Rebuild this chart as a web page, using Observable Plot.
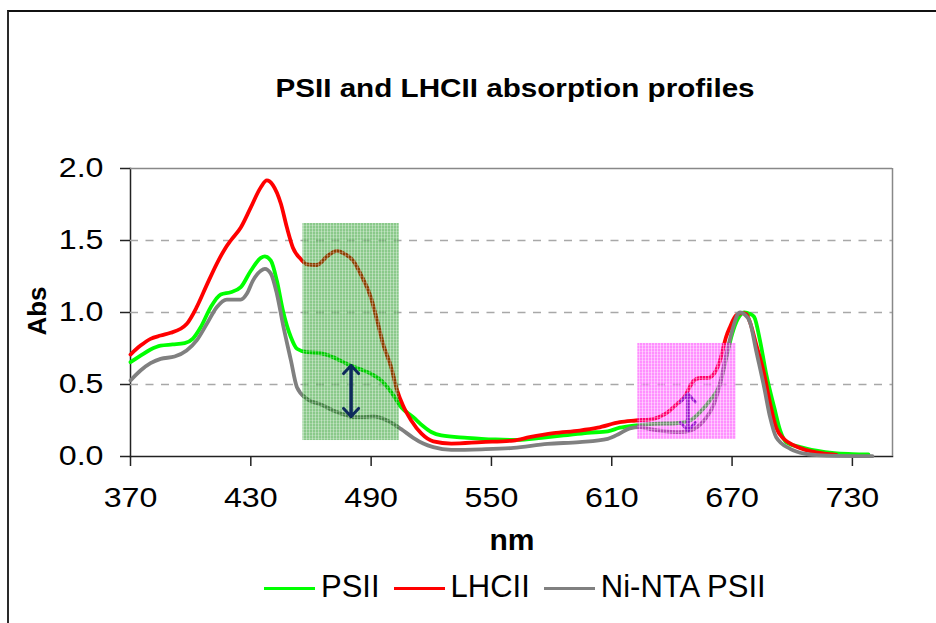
<!DOCTYPE html>
<html>
<head>
<meta charset="utf-8">
<script src="https://cdn.jsdelivr.net/npm/d3@7"></script>
<script src="https://cdn.jsdelivr.net/npm/@observablehq/plot@0.6"></script>
<style>
  html, body { margin: 0; padding: 0; background: #fff; }
  #wrap { position: relative; width: 936px; height: 623px; overflow: hidden;
          font-family: "Liberation Sans", Arial, Helvetica, sans-serif; color: #000; }
  #frame { position: absolute; left: 7px; top: 10px; width: 1000px; height: 700px;
           border-left: 2px solid #2a2a2a; border-top: 2px solid #111; box-sizing: border-box; }
  #chart { position: absolute; left: 0; top: 0; }
  #chart svg text { font-family: "Liberation Sans", Arial, Helvetica, sans-serif; font-size: 28px; fill: #000; }
  #title { position: absolute; left: 215px; width: 600px; top: 75px; text-align: center;
           font-weight: bold; font-size: 26px; line-height: 26px; transform: scaleX(1.14); white-space: nowrap; }
  #xlabel { position: absolute; left: 412px; width: 200px; top: 525px; text-align: center;
            font-weight: bold; font-size: 30px; line-height: 30px; }
  #ylabel { position: absolute; left: 37px; top: 311px; font-weight: bold; font-size: 26px; line-height: 26px;
            transform: translate(-50%, -50%) rotate(-90deg); white-space: nowrap; }
  #legend { position: absolute; left: 264px; top: 571px; display: flex; align-items: center;
            font-size: 31px; line-height: 31px; white-space: nowrap; }
  #legend .item { display: flex; align-items: center; margin-right: 14px; }
  #legend .swatch { width: 51px; height: 0; border-top: 3.5px solid; margin-right: 6px; position: relative; top: 2px; }
</style>
</head>
<body>
<div id="wrap">
  <div id="frame"></div>
  <div id="chart"></div>
  <div id="title">PSII and LHCII absorption profiles</div>
  <div id="xlabel">nm</div>
  <div id="ylabel">Abs</div>
  <div id="legend"></div>
</div>
<script>
// Absorption spectra (wavelength in nm, absorbance)
const psiiNm  = [370,375,380,385,391,397,401,405,410,415,420,425,430,435,437,440,443,446,450,453,458,465,471,478,484,490,495,500,505,511,516,520,525,538,545,552,563,575,586,598,608,614,621,631,642,649,654,659,664,667,670,673,676,679,681,684,687,691,694,697,704,712,721,730,738];
const psiiAbs = [0.655,0.70,0.743,0.77,0.778,0.787,0.817,0.898,1.037,1.125,1.141,1.176,1.29,1.38,1.39,1.36,1.22,1.014,0.828,0.748,0.724,0.717,0.69,0.643,0.609,0.574,0.528,0.447,0.342,0.273,0.21,0.17,0.146,0.13,0.123,0.118,0.115,0.13,0.146,0.165,0.175,0.2,0.215,0.227,0.231,0.25,0.308,0.39,0.505,0.68,0.85,0.96,1.0,0.99,0.97,0.8,0.574,0.342,0.18,0.1,0.065,0.04,0.023,0.017,0.014];

const lhciiNm  = [370,375,380,385,390,395,398,403,408,413,417,420,425,430,435,438,441,445,448,451,455,458,463,468,473,477,481,485,490,493,496,500,503,506,510,515,521,530,545,561,569,581,594,603,614,622,631,636,639,643,646,651,654,658,662,664,667,669,672,675,677,679,682,686,689,692,696,701,709,716,722];
const lhciiAbs = [0.708,0.77,0.817,0.84,0.859,0.887,0.92,1.037,1.19,1.338,1.44,1.50,1.59,1.73,1.87,1.917,1.885,1.755,1.59,1.45,1.37,1.335,1.33,1.39,1.428,1.405,1.36,1.26,1.10,0.944,0.78,0.62,0.458,0.35,0.25,0.16,0.105,0.09,0.1,0.111,0.134,0.162,0.18,0.2,0.238,0.25,0.262,0.29,0.32,0.37,0.41,0.528,0.545,0.546,0.597,0.667,0.83,0.9,0.98,0.995,0.99,0.93,0.78,0.574,0.366,0.2,0.12,0.076,0.037,0.02,0.012];

const niNm  = [370,375,380,385,392,398,403,408,413,418,425,428,431,435,437,440,443,446,450,453,458,465,471,478,481,485,491,498,505,511,516,521,530,545,561,578,594,608,614,619,624,629,634,644,649,656,661,664,667,671,672.5,674,676,679,682,686,689,692,699,706,715,740];
const niAbs = [0.528,0.597,0.648,0.678,0.694,0.736,0.806,0.92,1.037,1.09,1.09,1.13,1.22,1.29,1.303,1.27,1.13,0.92,0.667,0.481,0.40,0.361,0.32,0.285,0.273,0.273,0.278,0.25,0.19,0.13,0.09,0.065,0.046,0.05,0.06,0.088,0.1,0.123,0.16,0.195,0.204,0.19,0.18,0.169,0.18,0.25,0.366,0.505,0.7,0.92,0.98,1.0,0.99,0.93,0.736,0.48,0.27,0.134,0.053,0.02,0.008,0.002];

const seriesNames  = ["PSII", "LHCII", "Ni-NTA PSII"];
const seriesColors = ["#00ff00", "#ff0000", "#808080"];

// Axis ticks and grid
const xTicks = [370, 430, 490, 550, 610, 670, 730];
const yTicks = [0, 0.5, 1.0, 1.5, 2.0];
const gridLevels = [0.5, 1.0, 1.5];

// Highlighted wavelength windows [start nm, end nm, low Abs, high Abs]
const carotenoidBand = [456, 504, 0.111, 1.618];
const chlBBand       = [623, 672, 0.118, 0.785];

// Double-headed difference arrows: wavelength, low end, high end
const arrowNm   = [480, 648];
const arrowLow  = [0.278, 0.18];
const arrowHigh = [0.632, 0.435];
const arrowInk  = ["#0e2a5c", "#4b24a6"];

const rows = [
  ...psiiNm.map((nm, i) => ({series: "PSII", nm, abs: psiiAbs[i]})),
  ...lhciiNm.map((nm, i) => ({series: "LHCII", nm, abs: lhciiAbs[i]})),
  ...niNm.map((nm, i) => ({series: "Ni-NTA PSII", nm, abs: niAbs[i]}))
];

const band = b => [{x1: b[0], x2: b[1], y1: b[2], y2: b[3]}];
const arrowRows = arrowNm.map((nm, i) => ({nm, lo: arrowLow[i], hi: arrowHigh[i]}));

const arrowPair = (i) => [
  Plot.arrow([arrowRows[i]], {x1: "nm", x2: "nm", y1: "lo", y2: "hi", stroke: arrowInk[i], strokeWidth: 3, headLength: 5.5, headAngle: 86}),
  Plot.arrow([arrowRows[i]], {x1: "nm", x2: "nm", y1: "hi", y2: "lo", stroke: arrowInk[i], strokeWidth: 3, headLength: 5.5, headAngle: 86})
];

const chart = Plot.plot({
  width: 936,
  height: 623,
  marginLeft: 130,
  marginRight: 44,
  marginTop: 168,
  marginBottom: 167,
  style: {background: "transparent", color: "#222", overflow: "visible"},
  x: {domain: [370, 750], ticks: xTicks, tickSize: 10, tickPadding: 21, tickFormat: d => String(d), label: null, line: true},
  y: {domain: [0, 2], ticks: yTicks, tickSize: 10, tickPadding: 17, tickFormat: d => d.toFixed(1), label: null, line: true},
  color: {domain: seriesNames, range: seriesColors},
  marks: [
    Plot.ruleY(gridLevels, {stroke: "#a8a8a8", strokeWidth: 1.5, strokeDasharray: "8,7.5"}),
    Plot.ruleY([2], {stroke: "#888", strokeWidth: 1.5}),
    Plot.ruleX([750], {stroke: "#888", strokeWidth: 1.5}),
    Plot.line(rows, {x: "nm", y: "abs", z: "series", stroke: "series", strokeWidth: 3.8, curve: "monotone-x"}),
    ...arrowPair(1),
    Plot.rect(band(chlBBand), {x1: "x1", x2: "x2", y1: "y1", y2: "y2", fill: "url(#magentaScreen)"}),
    Plot.rect(band(carotenoidBand), {x1: "x1", x2: "x2", y1: "y1", y2: "y2", fill: "url(#greenScreen)"}),
    ...arrowPair(0)
  ]
});

// Halftone screens for the two highlighted windows
const defs = d3.select(chart).insert("defs", ":first-child");
function screen(id, color, alpha, speck) {
  const p = defs.append("pattern").attr("id", id).attr("width", 3).attr("height", 3).attr("patternUnits", "userSpaceOnUse");
  p.append("rect").attr("width", 3).attr("height", 3).attr("fill", color).attr("fill-opacity", alpha);
  p.append("rect").attr("width", 1).attr("height", 3).attr("fill", "#fff").attr("fill-opacity", speck);
  p.append("rect").attr("width", 3).attr("height", 1).attr("fill", "#fff").attr("fill-opacity", speck * 0.6);
}
screen("greenScreen", "#008a00", 0.46, 0.35);
screen("magentaScreen", "#ff00ff", 0.44, 0.45);

const svgSel = d3.select(chart);
svgSel.selectAll("[aria-label$='axis tick'] path, line[aria-label='frame']").attr("stroke-width", 1.5);

// Widen the tick labels slightly about their anchor point
svgSel.selectAll("[aria-label$='tick label'] text").each(function () {
  const t = this.getAttribute("transform") || "";
  this.setAttribute("transform", `${t} scale(1.15,1)`.trim());
});

document.getElementById("chart").appendChild(chart);

// Legend
const legend = d3.select("#legend");
seriesNames.forEach((name, i) => {
  const item = legend.append("div").attr("class", "item");
  item.append("div").attr("class", "swatch").style("border-top-color", seriesColors[i]);
  item.append("span").text(name);
});
</script>
</body>
</html>
